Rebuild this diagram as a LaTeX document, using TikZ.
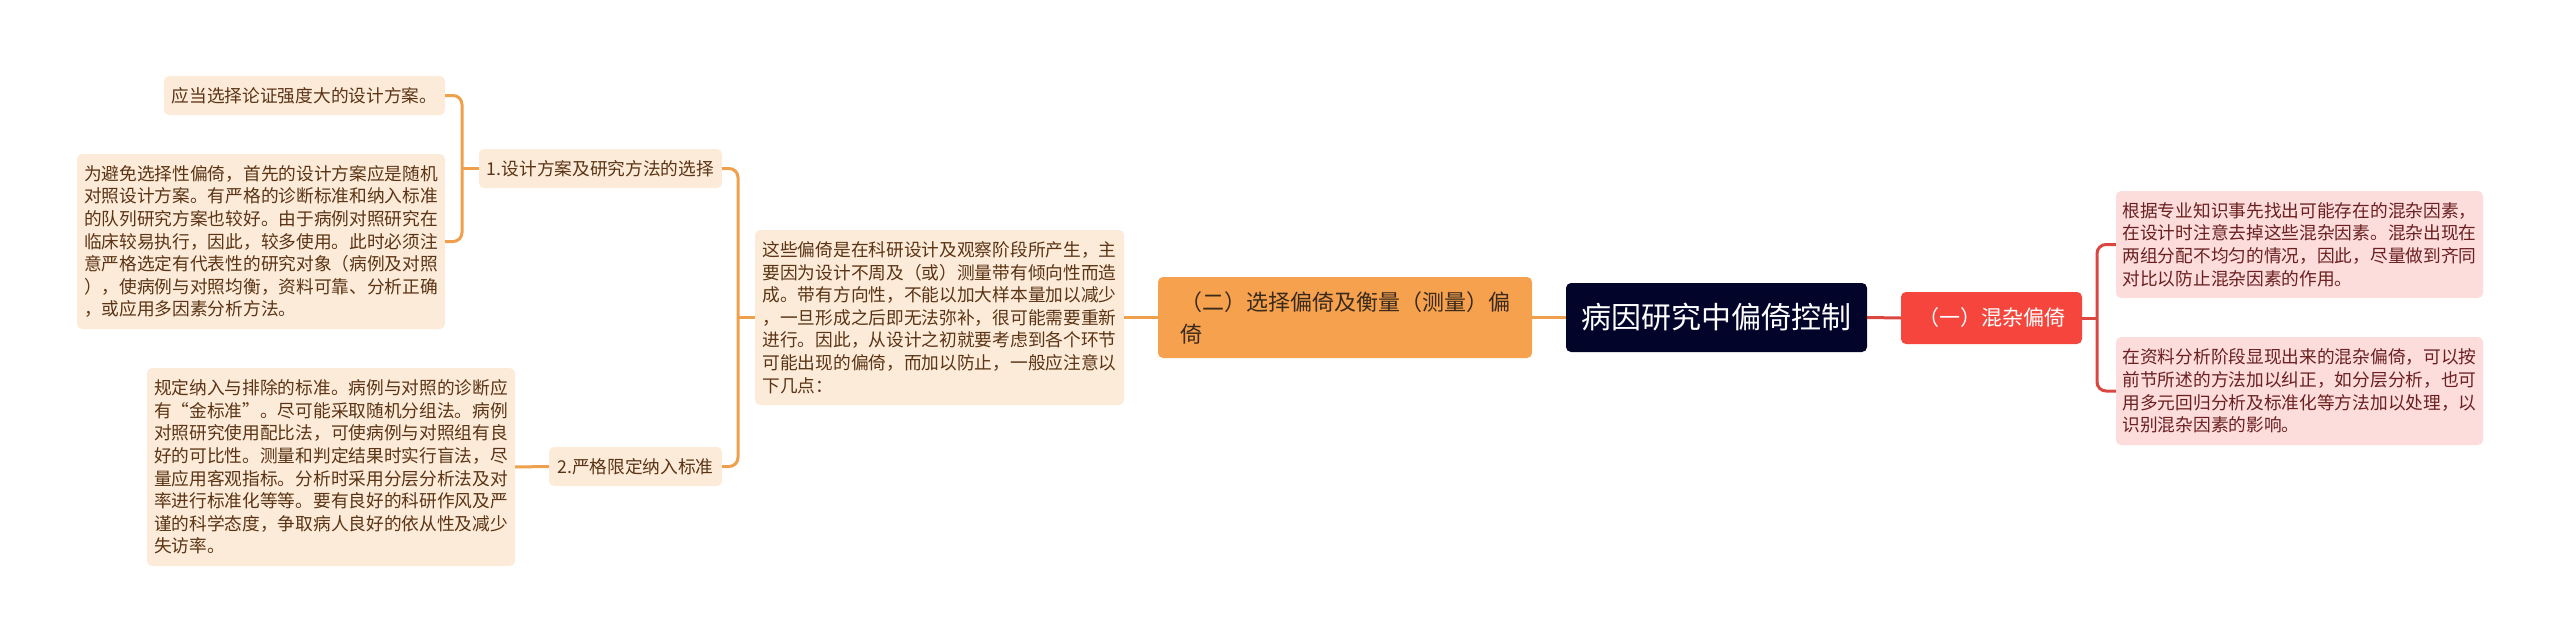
\documentclass[tikz,border=0pt]{standalone}
\usepackage{fontspec}
\newfontfamily\cjk{Noto Sans CJK SC}
\definecolor{orline}{HTML}{EFA04C}
\definecolor{lightor}{HTML}{FDEBDA}
\definecolor{ortext}{HTML}{5A3414}
\definecolor{midor}{HTML}{F5A14E}
\definecolor{midortext}{HTML}{3A2A1C}
\definecolor{rootfill}{HTML}{03042A}
\definecolor{redline}{HTML}{DC4640}
\definecolor{redfill}{HTML}{F5453D}
\definecolor{pinkfill}{HTML}{FDDCDC}
\definecolor{pinktext}{HTML}{6A2020}
\tikzset{
  bx/.style={rounded corners=5pt, inner sep=0pt, align=left, anchor=center},
  leafor/.style={bx, fill=lightor, text=ortext, font=\cjk\fontsize{17.7}{22.6}\selectfont},
  leafpk/.style={bx, fill=pinkfill, text=pinktext, font=\cjk\fontsize{17.7}{22.6}\selectfont},
  orlink/.style={draw=orline, line width=3pt},
  redlink/.style={draw=redline, line width=3pt},
}
\begin{document}
\begin{tikzpicture}[x=1pt,y=-1pt]
\useasboundingbox (0,0) rectangle (2560,642);
% root
\node[bx, fill=rootfill, text=white, font=\cjk\fontsize{30}{36}\selectfont,
  minimum width=301pt, minimum height=69pt] (root) at (1716.5,317.5) {病因研究中偏倚控制};
% left main branch
\node[bx, fill=midor, text=midortext, font=\cjk\fontsize{22}{32}\selectfont,
  minimum width=374pt, minimum height=81pt] (F) at (1345,317.5)
  {（二）选择偏倚及衡量（测量）偏\\倚};
\node[leafor, minimum width=369pt, minimum height=175pt] (E) at (939.5,317.5)
  {这些偏倚是在科研设计及观察阶段所产生，主\\
   要因为设计不周及（或）测量带有倾向性而造\\
   成。带有方向性，不能以加大样本量加以减少\\
   ，一旦形成之后即无法弥补，很可能需要重新\\
   进行。因此，从设计之初就要考虑到各个环节\\
   可能出现的偏倚，而加以防止，一般应注意以\\
   下几点：};
\node[leafor, minimum width=243pt, minimum height=39pt] (C1) at (600.5,168.5)
  {1.设计方案及研究方法的选择};
\node[leafor, minimum width=173pt, minimum height=39pt] (C2) at (635.5,466.5)
  {2.严格限定纳入标准};
\node[leafor, minimum width=281pt, minimum height=39pt] (A) at (304.5,95.5)
  {应当选择论证强度大的设计方案。};
\node[leafor, minimum width=368pt, minimum height=175pt] (B) at (261,241.5)
  {为避免选择性偏倚，首先的设计方案应是随机\\
   对照设计方案。有严格的诊断标准和纳入标准\\
   的队列研究方案也较好。由于病例对照研究在\\
   临床较易执行，因此，较多使用。此时必须注\\
   意严格选定有代表性的研究对象（病例及对照\\
   ），使病例与对照均衡，资料可靠、分析正确\\
   ，或应用多因素分析方法。};
\node[leafor, minimum width=368pt, minimum height=198pt] (D) at (331,467)
  {规定纳入与排除的标准。病例与对照的诊断应\\
   有“金标准”。尽可能采取随机分组法。病例\\
   对照研究使用配比法，可使病例与对照组有良\\
   好的可比性。测量和判定结果时实行盲法，尽\\
   量应用客观指标。分析时采用分层分析法及对\\
   率进行标准化等等。要有良好的科研作风及严\\
   谨的科学态度，争取病人良好的依从性及减少\\
   失访率。};
% right main branch
\node[bx, fill=redfill, text=white, font=\cjk\fontsize{21}{26}\selectfont,
  minimum width=181pt, minimum height=52pt] (G) at (1991.5,318) {（一）混杂偏倚};
\node[leafpk, minimum width=367pt, minimum height=107pt] (H) at (2299.5,244.5)
  {根据专业知识事先找出可能存在的混杂因素，\\
   在设计时注意去掉这些混杂因素。混杂出现在\\
   两组分配不均匀的情况，因此，尽量做到齐同\\
   对比以防止混杂因素的作用。};
\node[leafpk, minimum width=367pt, minimum height=108pt] (I) at (2299.5,391)
  {在资料分析阶段显现出来的混杂偏倚，可以按\\
   前节所述的方法加以纠正，如分层分析，也可\\
   用多元回归分析及标准化等方法加以处理，以\\
   识别混杂因素的影响。};
% junction points
\coordinate (j1) at (738,317.5);
\coordinate (j2) at (462,168.5);
\coordinate (j3) at (2097,318);
% connectors
\draw[orlink] (root.west) -- (F.east);
\draw[orlink] (F.west) -- (E.east);
\draw[orlink] (E.west) -- (j1);
\draw[orlink, rounded corners=9pt] (C1.east) -| (j1) |- (C2.east);
\draw[orlink] (C1.west) -- (j2);
\draw[orlink, rounded corners=9pt] (A.east) -| (j2) |- (B.east);
\draw[orlink] (C2.west) -- (D.east);
\draw[redlink] (root.east) -- (G.west);
\draw[redlink] (G.east) -- (j3);
\draw[redlink, rounded corners=9pt] (H.west) -| (j3) |- (I.west);
\end{tikzpicture}
\end{document}
